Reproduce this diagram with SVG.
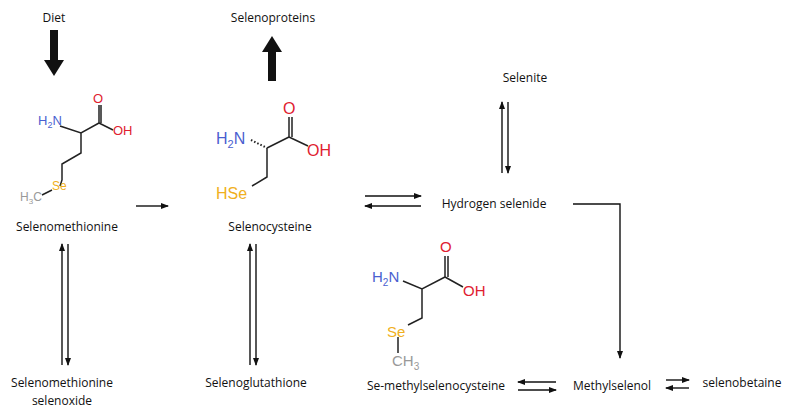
<svg xmlns="http://www.w3.org/2000/svg" width="792" height="411" viewBox="0 0 792 411">
<style>
.l{font-family:"Open Sans","Liberation Sans",sans-serif;font-size:12px;fill:#111;text-anchor:middle}
.c{font-family:"Liberation Sans",Arial,sans-serif}
.b{stroke:#222;stroke-width:1.5;fill:none}
.a{stroke:#111;stroke-width:1.4;fill:none}
.N{fill:#4a5fd0}.O{fill:#e02030}.S{fill:#f0b020}.G{fill:#999}
</style>
<defs>
<marker id="ah" markerWidth="8" markerHeight="6" refX="7" refY="3" orient="auto" markerUnits="userSpaceOnUse"><path d="M0,0L8,3L0,6z" fill="#111"/></marker>
</defs>
<rect width="792" height="411" fill="#fff"/>
<g id="diet"><text class="l" x="54" y="22">Diet</text></g>
<g id="selenoproteins"><text class="l" x="273" y="22">Selenoproteins</text></g>
<g id="selenite"><text class="l" x="525" y="82">Selenite</text></g>
<g id="selenomethionine">
<path class="b" d="M60,126L81,133L99,123M99,105V123M101,105V123M99,123L113,130M81,133V153L62,164V180L60,186M52,190L42,195"/>
<text class="c N" x="38" y="125" font-size="13">H<tspan font-size="9" dy="3">2</tspan><tspan dy="-3">N</tspan></text>
<text class="c O" x="93" y="103" font-size="13">O</text>
<text class="c O" x="113" y="135" font-size="13">OH</text>
<text class="c S" x="52" y="190" font-size="12">Se</text>
<text class="c G" x="20" y="201" font-size="12">H<tspan font-size="8" dy="3">3</tspan><tspan dy="-3">C</tspan></text>
<text class="l" x="67" y="231">Selenomethionine</text>
</g>
<g id="selenocysteine">
<path class="b" d="M267,148L289,137M289,117V137M292,117V137M289,137L308,146M267,148V177L252,186"/>
<path d="M251,140L267,148" stroke="#222" stroke-width="2" stroke-dasharray="1.5,2"/>
<text class="c N" x="216" y="144" font-size="16">H<tspan font-size="11" dy="4">2</tspan><tspan dy="-4">N</tspan></text>
<text class="c O" x="283" y="114" font-size="16">O</text>
<text class="c O" x="307" y="156" font-size="16">OH</text>
<text class="c S" x="216" y="199" font-size="16">HSe</text>
<text class="l" x="270" y="231">Selenocysteine</text>
</g>
<g id="hydrogen-selenide"><text class="l" x="494" y="208">Hydrogen selenide</text></g>
<g id="se-methylselenocysteine">
<path class="b" d="M403,281L422,289L445,277M445,256V277M448,256V277M445,277L463,287M422,289V318L408,325M398,337V353"/>
<text class="c N" x="372" y="282" font-size="15">H<tspan font-size="10" dy="4">2</tspan><tspan dy="-4">N</tspan></text>
<text class="c O" x="440" y="252" font-size="15">O</text>
<text class="c O" x="463" y="296" font-size="15">OH</text>
<text class="c S" x="387" y="337" font-size="15">Se</text>
<text class="c G" x="392" y="366" font-size="15">CH<tspan font-size="10" dy="4">3</tspan></text>
<text class="l" x="436" y="390" font-size="12.5">Se-methylselenocysteine</text>
</g>
<g id="methylselenol"><text class="l" x="612" y="390" font-size="12.5">Methylselenol</text></g>
<g id="selenobetaine"><text class="l" x="742" y="387" font-size="12.5">selenobetaine</text></g>
<g id="selenomethionine-selenoxide"><text class="l" x="62" y="387">Selenomethionine</text><text class="l" x="62" y="405">selenoxide</text></g>
<g id="selenoglutathione"><text class="l" x="256" y="387">Selenoglutathione</text></g>
<g id="connectors">
<path d="M50,30H58V60H64L54,76L44,60H50z" fill="#111"/>
<path d="M268,81H276V52H282L272,36L262,52H268z" fill="#111"/>
<path class="a" d="M136,206H168" marker-end="url(#ah)"/>
<path class="a" d="M502,173V102" marker-end="url(#ah)"/>
<path class="a" d="M508,102V173" marker-end="url(#ah)"/>
<path class="a" d="M365,196H421" marker-end="url(#ah)"/>
<path class="a" d="M421,206H365" marker-end="url(#ah)"/>
<path class="a" d="M573,204H620V358" marker-end="url(#ah)"/>
<path class="a" d="M62,365V244" marker-end="url(#ah)"/>
<path class="a" d="M68,244V365" marker-end="url(#ah)"/>
<path class="a" d="M250,365V244" marker-end="url(#ah)"/>
<path class="a" d="M256,244V365" marker-end="url(#ah)"/>
<path class="a" d="M556,382H518" marker-end="url(#ah)"/>
<path class="a" d="M518,390H556" marker-end="url(#ah)"/>
<path class="a" d="M666,380H689" marker-end="url(#ah)"/>
<path class="a" d="M689,388H666" marker-end="url(#ah)"/>
</g>
</svg>
